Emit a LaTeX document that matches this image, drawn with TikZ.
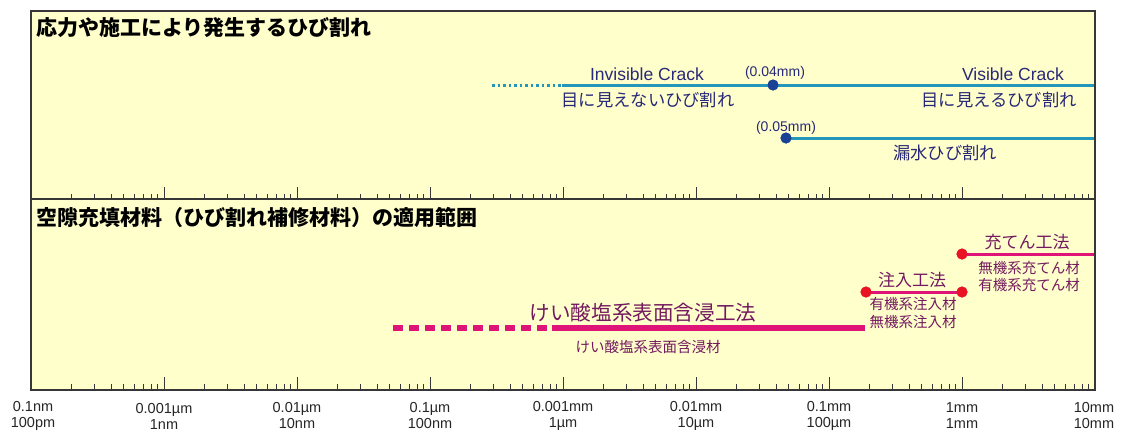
\documentclass[tikz,border=0pt]{standalone}
\usepackage{fontspec}
\setmainfont{Liberation Sans}
\newfontfamily\jp{Noto Sans CJK JP}
\definecolor{bgyellow}{RGB}{255,255,204}
\definecolor{framegray}{RGB}{55,55,55}
\definecolor{crackteal}{RGB}{35,150,185}
\definecolor{dotnavy}{RGB}{25,65,150}
\definecolor{textnavy}{RGB}{40,40,120}
\definecolor{fillmag}{RGB}{222,20,120}
\definecolor{dotred}{RGB}{232,20,35}
\definecolor{textpurple}{RGB}{115,25,95}
\tikzset{
  frame/.style={draw=framegray, line width=1.6pt},
  ticks/.style={draw=framegray, line width=1pt},
  paneltitle/.style={font=\jp\bfseries\fontsize{21}{24}\selectfont, anchor=west, inner sep=0pt, text=black},
  entext/.style={font=\fontsize{17.5}{20}\selectfont, text=textnavy, inner sep=0pt},
  smalltext/.style={font=\fontsize{14}{16}\selectfont, text=textnavy, inner sep=0pt},
  jpnavy/.style={font=\jp\fontsize{17.3}{20}\selectfont, text=textnavy, inner sep=0pt},
  jpbig/.style={font=\jp\fontsize{17}{19}\selectfont, text=textpurple, inner sep=0pt},
  jphuge/.style={font=\jp\fontsize{20.6}{23}\selectfont, text=textpurple, inner sep=0pt},
  jpsmall/.style={font=\jp\fontsize{14.5}{16}\selectfont, text=textpurple, inner sep=0pt},
  axislabel/.style={font=\fontsize{14.5}{16}\selectfont, text=black!85, inner sep=0pt, align=center},
  tealline/.style={draw=crackteal, line width=3pt},
  tealdots/.style={draw=crackteal, line width=3pt, dash pattern=on 2.5pt off 3pt},
  magline/.style={draw=fillmag, line width=3pt},
  magthick/.style={draw=fillmag, line width=5.5pt},
  magdash/.style={draw=fillmag, line width=6pt, dash pattern=on 10pt off 6pt},
  navydot/.style={circle, fill=dotnavy, inner sep=0pt, minimum size=11pt},
  reddot/.style={circle, fill=dotred, inner sep=0pt, minimum size=11pt},
}
\begin{document}
\begin{tikzpicture}[x=1pt, y=-1pt]
\useasboundingbox (0,0) rectangle (1121,431);
% panels
\fill[bgyellow] (31,11) rectangle (1095,390);
% ticks
\foreach \yy in {199,389} {
  \foreach \k in {0,...,7} {
    \draw[ticks] ({31+133*\k},\yy) -- ++(0,-12);
    \foreach \m in {2,...,9} {
      \pgfmathsetmacro\xx{31+133*(\k+log10(\m))}
      \draw[ticks] (\xx,\yy) -- ++(0,-5);
    }
  }
}
\draw[frame] (31,11) rectangle (1095,390);
\draw[frame] (31,199) -- (1095,199);

% titles
\node[paneltitle] (t1) at (36,28) {応力や施工により発生するひび割れ};
\node[paneltitle] (t2) at (36,217) {空隙充填材料（ひび割れ補修材料）の適用範囲};

% upper panel
\coordinate (vstart) at (492,85);
\coordinate (vsolid) at (562,85);
\coordinate (vend) at (1094,85);
\node[navydot] (d004) at (773,85) {};
\draw[tealdots] (vstart) -- (vsolid);
\draw[tealline] (vsolid) -- (vend);
\node[navydot] at (d004) {};
\node[entext] (inv) at (647,74) {Invisible Crack};
\node[smalltext] (l004) at (775,73) {(0.04mm)};
\node[entext] (vis) at (1013,74) {Visible Crack};
\node[jpnavy] (injp) at (648,100) {目に見えないひび割れ};
\node[jpnavy] (visjp) at (999,100) {目に見えるひび割れ};

\coordinate (wend) at (1094,138);
\node[navydot] (d005) at (786,138) {};
\draw[tealline] (d005.center) -- (wend);
\node[navydot] at (d005) {};
\node[smalltext] (l005) at (786,128) {(0.05mm)};
\node[jpnavy] (leak) at (945,153) {漏水ひび割れ};

% lower panel
\coordinate (fend) at (1094,254);
\node[reddot] (f1) at (962,254) {};
\draw[magline] (f1.center) -- (fend);
\node[reddot] at (f1) {};
\node[jpbig] (fill) at (1027,242) {充てん工法};
\node[jpsmall] (fa) at (1029,268) {無機系充てん材};
\node[jpsmall] (fb) at (1029,285) {有機系充てん材};

\node[reddot] (i1) at (866,292) {};
\node[reddot] (i2) at (962,292) {};
\draw[magline] (i1.center) -- (i2.center);
\node[reddot] at (i1) {};
\node[reddot] at (i2) {};
\node[jpbig] (inj) at (912,280) {注入工法};
\node[jpsmall] (ia) at (913,304) {有機系注入材};
\node[jpsmall] (ib) at (913,322) {無機系注入材};

\coordinate (sdash) at (393,328);
\coordinate (ssolid) at (552,328);
\coordinate (send) at (865,328);
\draw[magdash] (sdash) -- (ssolid);
\draw[magthick] (ssolid) -- (send);
\node[jphuge] (sil) at (643,313) {けい酸塩系表面含浸工法};
\node[jpsmall] (sila) at (648,347) {けい酸塩系表面含浸材};

% axis labels
\node[axislabel] (a0) at (33,416) {0.1nm\\100pm};
\node[axislabel] (a1) at (164,416) {0.001µm\\1nm};
\node[axislabel] (a2) at (297,416) {0.01µm\\10nm};
\node[axislabel] (a3) at (430,416) {0.1µm\\100nm};
\node[axislabel] (a4) at (563,416) {0.001mm\\1µm};
\node[axislabel] (a5) at (696,416) {0.01mm\\10µm};
\node[axislabel] (a6) at (829,416) {0.1mm\\100µm};
\node[axislabel] (a7) at (962,416) {1mm\\1mm};
\node[axislabel] (a8) at (1094,416) {10mm\\10mm};
\end{tikzpicture}
\end{document}
